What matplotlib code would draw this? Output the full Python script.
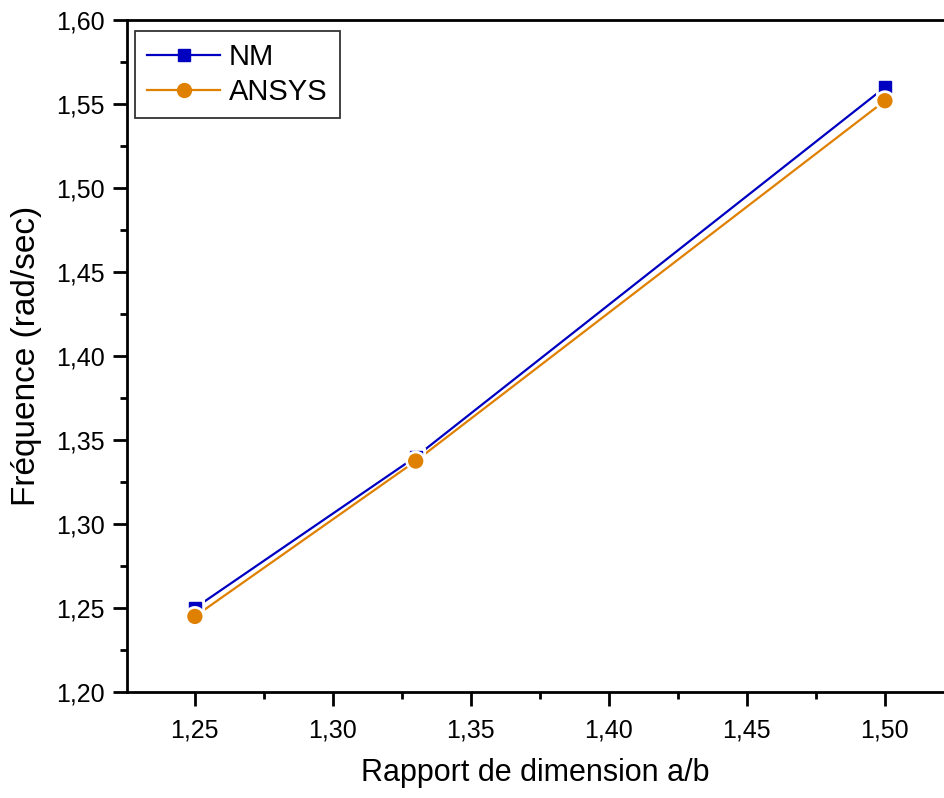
import matplotlib
matplotlib.use("Agg")
import matplotlib.pyplot as plt
import matplotlib.patheffects as pe
from matplotlib.lines import Line2D
from matplotlib.ticker import FixedLocator, FuncFormatter

plt.rcParams['font.family'] = ['Liberation Sans', 'DejaVu Sans']

ratio = [1.25, 1.33, 1.50]
nm = [1.250, 1.340, 1.560]
ansys = [1.245, 1.3375, 1.552]

xticks = [1.25, 1.30, 1.35, 1.40, 1.45, 1.50]
yticks = [1.20, 1.25, 1.30, 1.35, 1.40, 1.45, 1.50, 1.55, 1.60]

blue = '#0000c0'
orange = '#e08000'

fig = plt.figure(figsize=(9.44, 7.98), dpi=100)
ax = fig.add_axes([0.1345, 0.1328, 0.8655, 0.842])

ax.plot(ratio, nm, color=blue, lw=1.6, zorder=2)
ax.plot(ratio, ansys, color=orange, lw=1.6, zorder=2)
halo = [pe.Stroke(linewidth=5, foreground='white'), pe.Normal()]
ax.plot(ratio, nm, ls='none', marker='s', ms=8.5, color=blue, mec=blue,
        path_effects=halo, zorder=3)
ax.plot(ratio, ansys, ls='none', marker='o', ms=10, color=orange, mec=orange,
        path_effects=halo, zorder=4)

ax.set_xlim(1.2254, 1.5214)
ax.set_ylim(1.20, 1.60)
ax.xaxis.set_major_locator(FixedLocator(xticks))
ax.yaxis.set_major_locator(FixedLocator(yticks))
ax.xaxis.set_minor_locator(FixedLocator([1.275, 1.325, 1.375, 1.425, 1.475]))
ax.yaxis.set_minor_locator(FixedLocator([1.225, 1.275, 1.325, 1.375, 1.425, 1.475, 1.525, 1.575]))
fmt = FuncFormatter(lambda v, p: f"{v:.2f}".replace('.', ','))
ax.xaxis.set_major_formatter(fmt)
ax.yaxis.set_major_formatter(fmt)

ax.spines['right'].set_visible(False)
for s in ['left', 'bottom', 'top']:
    ax.spines[s].set_linewidth(2)
ax.tick_params(which='major', direction='out', length=10, width=2, labelsize=18,
               top=False, right=False)
ax.tick_params(axis='x', which='major', pad=9)
ax.tick_params(axis='y', which='major', pad=6)
ax.tick_params(which='minor', direction='out', length=5, width=2, top=False, right=False)

ax.set_xlabel('Rapport de dimension a/b', fontsize=22, labelpad=11)
ax.set_ylabel('Fréquence (rad/sec)', fontsize=24, labelpad=10)

handles = [Line2D([], [], color=blue, lw=1.6, marker='s', ms=8.5),
           Line2D([], [], color=orange, lw=1.6, marker='o', ms=10)]
leg = ax.legend(handles, ['NM', 'ANSYS'], loc='upper left', fontsize=21, frameon=True,
                fancybox=False, edgecolor='black', handlelength=2.5, handletextpad=0.3,
                borderpad=0.42, labelspacing=0.22, borderaxespad=0,
                bbox_to_anchor=(0.0098, 0.9836))
leg.get_frame().set_linewidth(1.3)

fig.savefig('out.png', dpi=100)
